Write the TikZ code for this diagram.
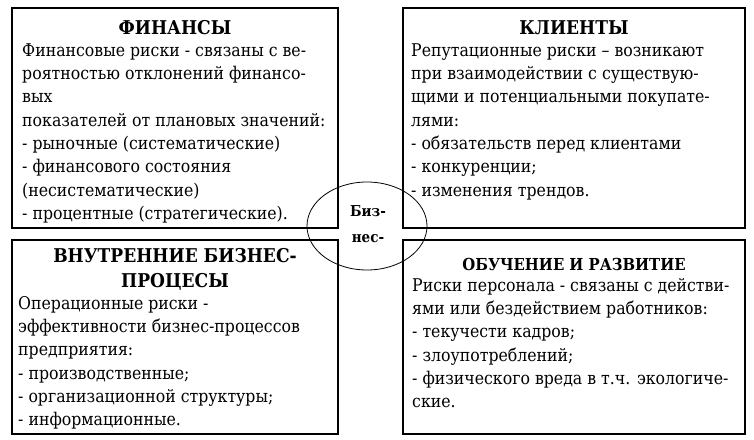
\documentclass[tikz,border=0pt]{standalone}
\usepackage{fontspec}
\setmainfont{DejaVu Serif Condensed}
\tikzset{
  box/.style={draw=black, line width=1.3pt},
  ttl/.style={anchor=base, inner sep=0pt, font=\bfseries\fontsize{19}{25}\selectfont},
  body/.style={anchor=north west, inner sep=0pt, align=left, font=\fontsize{17.5}{23.3}\selectfont},
  eltxt/.style={anchor=base, inner sep=0pt, font=\bfseries\fontsize{15}{18}\selectfont}
}
\newcommand{\fst}{\rule{0pt}{14pt}}
\begin{document}
\begin{tikzpicture}[x=1pt,y=-1pt]
\useasboundingbox (0,0) rectangle (754,439);
% boxes
\draw[box] (12,8) rectangle (338,228);
\draw[box] (403,8) rectangle (745,228);
\draw[box] (12,240) rectangle (338,434);
\draw[box] (403,240) rectangle (745,434);
% top-left
\node[ttl] (t1) at (175,34) {ФИНАНСЫ};
\node[body] (b1) at (22,42) {\fst Финансовые риски - связаны с ве-\\роятностью отклонений финансо-\\вых\\показателей от плановых значений:\\- рыночные (систематические)\\- финансового состояния\\(несистематические)\\- процентные (стратегические).};
% top-right
\node[ttl] (t2) at (574,34) {КЛИЕНТЫ};
\node[body] (b2) at (411,42) {\fst Репутационные риски – возникают\\при взаимодействии с существую-\\щими и потенциальными покупате-\\лями:\\- обязательств перед клиентами\\- конкуренции;\\- изменения трендов.};
% bottom-left
\node[ttl] (t3a) at (175,262) {ВНУТРЕННИЕ БИЗНЕС-};
\node[ttl] (t3b) at (175,287) {ПРОЦЕСЫ};
\node[body] (b3) at (18,295) {\fst Операционные риски -\\эффективности бизнес-процессов\\предприятия:\\- производственные;\\- организационной структуры;\\- информационные.};
% bottom-right
\node[ttl, font=\bfseries\fontsize{16.5}{25}\selectfont] (t4) at (574,270) {ОБУЧЕНИЕ И РАЗВИТИЕ};
\node[body] (b4) at (412,277) {\fst Риски персонала - связаны с действи-\\ями или бездействием работников:\\- текучести кадров;\\- злоупотреблений;\\- физического вреда в т.ч. экологиче-\\ские.};
% ellipse
\draw[line width=0.8pt] (367,226) ellipse [x radius=60, y radius=44];
\node[eltxt] (e1) at (368,216) {Биз-};
\node[eltxt] (e2) at (368,242) {нес-};
\end{tikzpicture}
\end{document}
